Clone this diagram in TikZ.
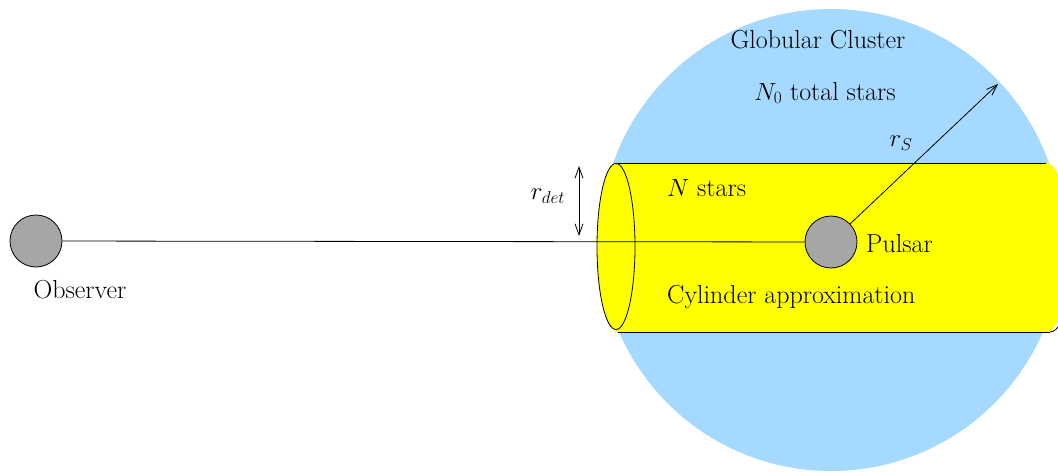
\documentclass[tikz,border=0pt]{standalone}
\usetikzlibrary{arrows.meta}
\definecolor{clusterblue}{RGB}{166,217,255}
\definecolor{stargray}{RGB}{166,166,166}
\definecolor{cylyellow}{RGB}{255,255,0}
\begin{document}
\begin{tikzpicture}[x=1pt,y=-1pt,
  every node/.style={font=\fontsize{26}{31}\selectfont},
  star/.style={circle,draw=black,fill=stargray,line width=0.8pt,minimum size=52pt,inner sep=0pt},
  ln/.style={line width=0.8pt},
  lbl/.style={inner sep=0pt}]
\useasboundingbox (0,0) rectangle (1058,473);
\clip (0,0) rectangle (1058,473);
% cluster
\fill[clusterblue] (831,240) circle[radius=231];
% cylinder
\fill[cylyellow] (616,163) rectangle (1048,332);
\fill[cylyellow] (1046,163) arc[start angle=-90,end angle=90,x radius=24,y radius=84.5] -- cycle;
\draw[ln] (1050,332) arc[start angle=90,end angle=60,x radius=24,y radius=84.5];
\draw[ln] (616,163) -- (1046,163);
\draw[ln] (618,332) -- (1050,332);
\filldraw[fill=cylyellow,ln] (616,246.5) ellipse[x radius=19,y radius=83];
% stars
\node[star] (obs) at (36,241) {};
\node[star] (psr) at (831,242) {};
\draw[ln] (obs) -- (psr);
\coordinate (tip) at (998,84);
\draw[ln,-{Straight Barb[length=11pt,width=8pt]}] (psr) -- (tip);
% r_det
\coordinate (rtop) at (579,166);
\coordinate (rbot) at (579,236);
\draw[ln,{Straight Barb[length=11pt,width=8pt]}-{Straight Barb[length=11pt,width=8pt]}] (rtop) -- (rbot);
% labels
\node (title) at (818,40) {Globular Cluster};
\node (ntot) at (825,93) {$N_0$ total stars};
\node (rs) at (901,143) {$r_S$};
\node (rdet) at (548,196) {$r_{det}$};
\node[lbl,anchor=west] (nst) at (667,188) {$N$ stars};
\node[lbl,anchor=west] (plab) at (866,244) {Pulsar};
\node[lbl,anchor=west] (cyl) at (667,297) {Cylinder approximation};
\node (olab) at (80,290) {Observer};
\end{tikzpicture}
\end{document}
